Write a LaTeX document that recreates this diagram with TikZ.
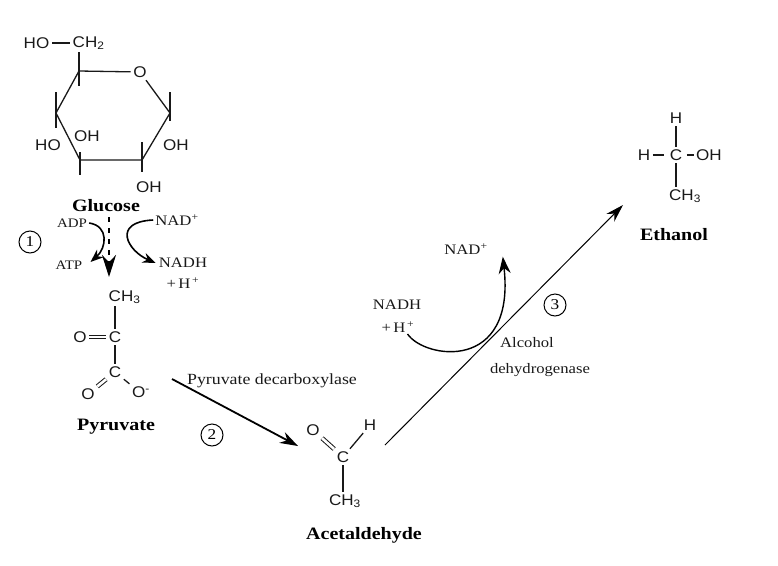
\documentclass[tikz,border=0pt]{standalone}
\usepackage{fontspec}
\setmainfont{Liberation Serif}[FakeStretch=1.15]
\newfontfamily\chemfont{Liberation Sans}[FakeStretch=1.1]
\usetikzlibrary{arrows.meta,calc}
\tikzset{
 bond/.style={line width=1.3pt, black!90},
 dbond/.style={line width=1pt, double, double distance=2.6pt, black!90},
 chem/.style={inner sep=2.5pt, font=\chemfont\fontsize{15.5}{16}\selectfont, text=black!90},
 molname/.style={inner sep=0pt, font=\bfseries\fontsize{17.4}{18}\selectfont},
 lbl/.style={inner sep=0pt, font=\fontsize{14.5}{15}\selectfont, text=black!90},
 smlbl/.style={inner sep=0pt, font=\fontsize{13}{14}\selectfont, text=black!90},
 circ/.style={circle, draw, line width=1pt, inner sep=0pt, minimum size=22pt, font=\fontsize{15}{16}\selectfont},
 bigarrow/.style={line width=1.8pt, -{Stealth[length=18pt,width=12pt]}},
 curvearrow/.style={line width=1.6pt, -{Stealth[length=13pt,width=10pt]}},
}
\begin{document}
\begin{tikzpicture}[x=1pt,y=-1pt]
\useasboundingbox (0,0) rectangle (778,565);

% ---------- Glucose ----------
\node[chem, anchor=east] (gHO) at (52,43) {HO};
\node[chem, anchor=west] (gCH2) at (70,43) {CH\textsubscript{2}};
\draw[bond] (gHO) -- (gCH2);
\coordinate (g1) at (79,71);
\node[chem] (gO) at (140,72) {O};
\coordinate (g2) at (170,113);
\coordinate (g3) at (142,160);
\coordinate (g4) at (80,160);
\coordinate (g5) at (56,113);
\draw[bond] (g1) -- (gO);
\draw[bond] (gO) -- (g2) -- (g3) -- (g4) -- (g5) -- (g1);
\draw[bond] (g1 |- gCH2.south) -- ($(g1)+(0,15)$);
\draw[bond] ($(g5)+(0,-21)$) -- ($(g5)+(0,15)$);
\draw[bond] ($(g2)+(0,-21)$) -- ($(g2)+(0,8)$);
\draw[bond] ($(g3)+(0,-18)$) -- ($(g3)+(0,12)$);
\draw[bond] ($(g4)+(0,-8)$) -- ($(g4)+(0,15)$);
\node[chem] (gOH1) at (48,145) {HO};
\node[chem] (gOH2) at (87,136) {OH};
\node[chem] (gOH3) at (176,145) {OH};
\node[chem] (gOH4) at (149,187) {OH};
\node[molname] (glc) at (106,206) {Glucose};

% ---------- step 1 ----------
\node[circ] (c1) at (30,242) {1};
\node[smlbl] (adp) at (72,223) {ADP};
\node[smlbl] (atp) at (69,265) {ATP};
\node[lbl] (nad1) at (177,220) {NAD\textsuperscript{+}};
\node[lbl] (nadh1) at (183,263) {NADH};
\node[lbl] (h1) at (183,283) {+\,H\textsuperscript{\,+}};
\coordinate (d1s) at (109,217);
\coordinate (d1e) at (109,277);
\draw[line width=2pt, dash pattern=on 5pt off 6pt, -{Stealth[length=22pt,width=14pt]}] (d1s) -- (d1e);
\draw[curvearrow] ([xshift=2pt]adp.east) .. controls +(20,3) and +(16,-14) .. ([xshift=8pt,yshift=3pt]atp.east);
\draw[curvearrow] ([xshift=-2pt]nad1.west) .. controls +(-42,2) and +(-28,-12) .. ([xshift=-3pt]nadh1.west);

% ---------- Pyruvate ----------
\node[chem, anchor=west] (pch3) at (106,297) {CH\textsubscript{3}};
\node[chem] (pO1) at (80,337) {O};
\node[chem] (pc1) at (115,337) {C};
\node[chem] (pc2) at (115,372) {C};
\node[chem] (pO2) at (88,394) {O};
\node[chem] (pO3) at (141,392) {O\textsuperscript{-}};
\draw[bond] (pc1 |- pch3.south) -- (pc1);
\draw[dbond] (pO1) -- (pc1);
\draw[bond] (pc1) -- (pc2);
\draw[dbond] (pc2) -- (pO2);
\draw[bond] (pc2) -- (pO3.north west);
\node[molname] (pyr) at (116,427) {Pyruvate};

% ---------- step 2 ----------
\node[lbl, font=\fontsize{15.5}{16}\selectfont] (pdc) at (272,381) {Pyruvate decarboxylase};
\node[circ] (c2) at (212,435) {2};
\coordinate (a2s) at (172,379);
\coordinate (a2e) at (298,446);
\draw[bigarrow] (a2s) -- (a2e);

% ---------- Acetaldehyde ----------
\node[chem] (aO) at (313,430) {O};
\node[chem] (aH) at (370,425) {H};
\node[chem] (aC) at (343,457) {C};
\node[chem] (aCH3) at (345,501) {CH\textsubscript{3}};
\draw[dbond] (aO) -- (aC);
\draw[bond] (aC) -- (aH);
\draw[bond] (aC) -- (aC |- aCH3.north);
\node[molname] (ace) at (364,535) {Acetaldehyde};

% ---------- step 3 ----------
\coordinate (a3s) at (385,445);
\coordinate (a3e) at (623,205);
\draw[line width=1pt, -{Stealth[length=18pt,width=11pt]}] (a3s) -- (a3e);
\node[lbl] (nad2) at (466,249) {NAD\textsuperscript{+}};
\node[lbl] (nadh2) at (397,305) {NADH};
\node[lbl] (h2) at (398,327) {+\,H\textsuperscript{\,+}};
\draw[line width=1.4pt, -{Stealth[length=17pt,width=12pt]}] ([xshift=-7pt,yshift=-7pt]h2.east) .. controls +(17,25) and +(13,116) .. ([xshift=15pt,yshift=-2pt]nad2.south east);
\node[circ] (c3) at (555,305) {3};
\node[lbl] (alc) at (527,343) {Alcohol};
\node[lbl] (dhg) at (540,370) {dehydrogenase};

% ---------- Ethanol ----------
\node[chem] (eH1) at (676,118) {H};
\node[chem] (eH2) at (644,155) {H};
\node[chem] (eC) at (676,155) {C};
\node[chem] (eOH) at (709,155) {OH};
\node[chem] (eCH3) at (685,196) {CH\textsubscript{3}};
\draw[bond] (eH1) -- (eC);
\draw[bond, shorten >=3pt] (eH2) -- (eC);
\draw[bond, shorten <=2pt] (eC) -- (eOH);
\draw[bond] (eC) -- (eC |- eCH3.north);
\node[molname] (eth) at (674,235) {Ethanol};
\end{tikzpicture}
\end{document}
